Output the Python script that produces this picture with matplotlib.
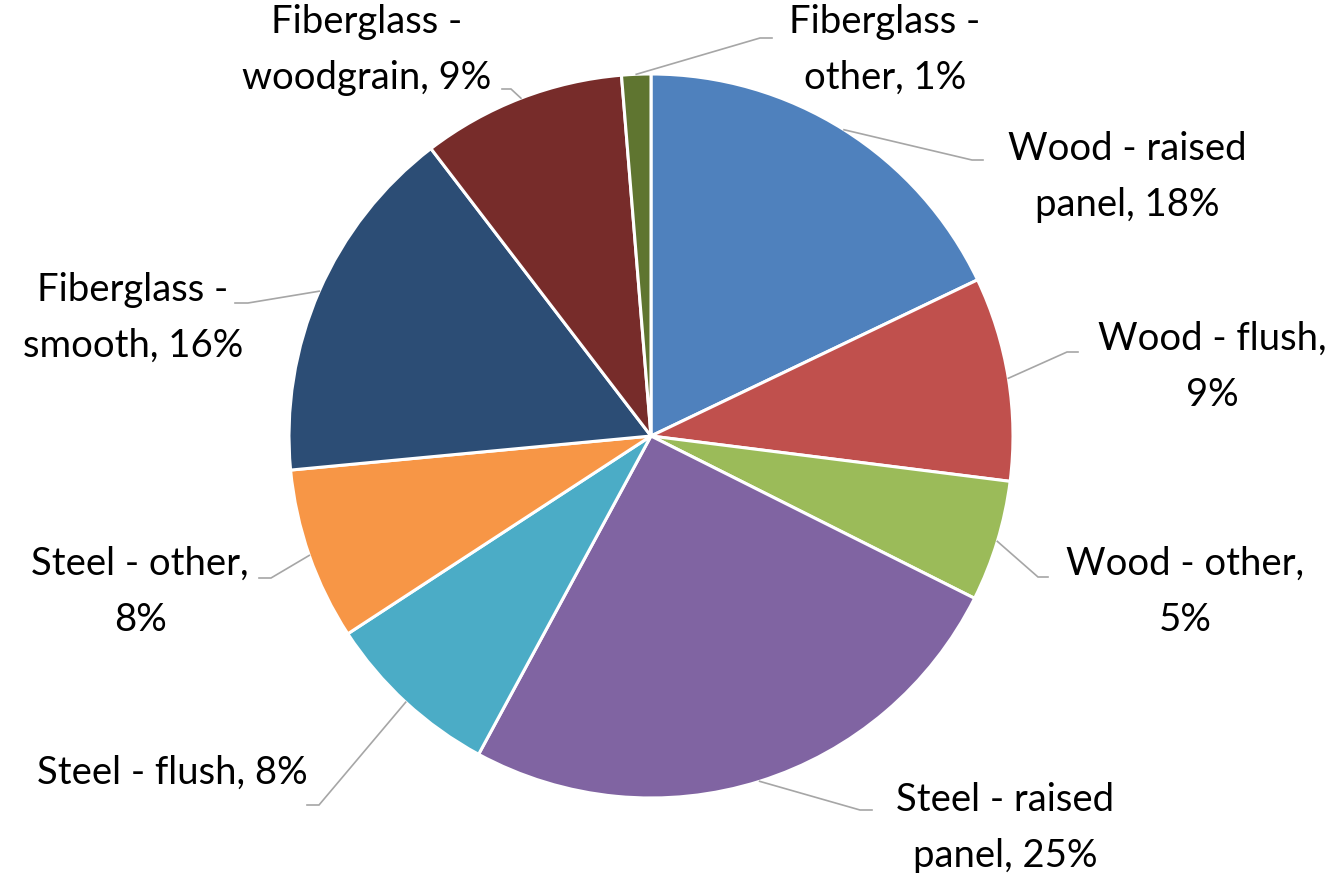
import numpy as np
import matplotlib
matplotlib.use("Agg")
import matplotlib.pyplot as plt

# Data
labels = ["Wood - raised\npanel", "Wood - flush,\n", "Wood - other,\n", "Steel - raised\npanel",
          "Steel - flush", "Steel - other,\n", "Fiberglass -\nsmooth", "Fiberglass -\nwoodgrain",
          "Fiberglass -\nother"]
shares = [17.9, 9.1, 5.4, 25.5, 7.9, 7.7, 16.1, 9.1, 1.3]
pct_labels = ["18%", "9%", "5%", "25%", "8%", "8%", "16%", "9%", "1%"]
colors = ["#4F81BD", "#C0504D", "#9BBB59", "#8064A2", "#4BACC6", "#F79646",
          "#2C4D75", "#772C2A", "#5F7530"]

# Layout (pixels, image coords): text centre, elbow point, end of horizontal tick
text_pos = [(1127, 177), (1212, 367), (1185, 592), (1005, 828), (172, 773),
            (140, 592), (133, 318), (367, 50), (885, 50)]
elbow = [(972, 160), (1067, 352), (1038, 577), (860, 810), (319, 805),
         (271, 578), (248, 303), (511, 89), (760, 38)]
tick_end = [983, 1078, 1048, 872, 307, 259, 235, 502, 772]

W, H = 1334, 873
cx, cy, R = 651, 436, 362

fig = plt.figure(figsize=(W / 100, H / 100), dpi=100)
ax = fig.add_axes([0, 0, 1, 1])
ax.axis("off")

wedges, _ = ax.pie(shares, colors=colors, startangle=90, counterclock=False,
                   center=(cx, H - cy), radius=R,
                   wedgeprops=dict(edgecolor="white", linewidth=2.2))
ax.set_xlim(0, W)
ax.set_ylim(0, H)
ax.set_aspect("equal")

for i, w in enumerate(wedges):
    mid = np.deg2rad((w.theta1 + w.theta2) / 2)
    sx = cx + R * np.cos(mid)
    sy = (H - cy) + R * np.sin(mid)
    ex, ey = elbow[i]
    ax.plot([sx, ex, tick_end[i]], [sy, H - ey, H - ey], color="#A6A6A6", lw=1.2,
            solid_joinstyle="miter")
    lab = labels[i]
    if lab.endswith("\n"):
        txt = lab + pct_labels[i]
    else:
        txt = lab + ", " + pct_labels[i]
    tx, ty = text_pos[i]
    ax.text(tx, H - ty, txt, ha="center", va="center", fontsize=27.5,
            linespacing=1.7, family=["Lato", "DejaVu Sans"], color="black")

fig.savefig("out.png", dpi=100)
